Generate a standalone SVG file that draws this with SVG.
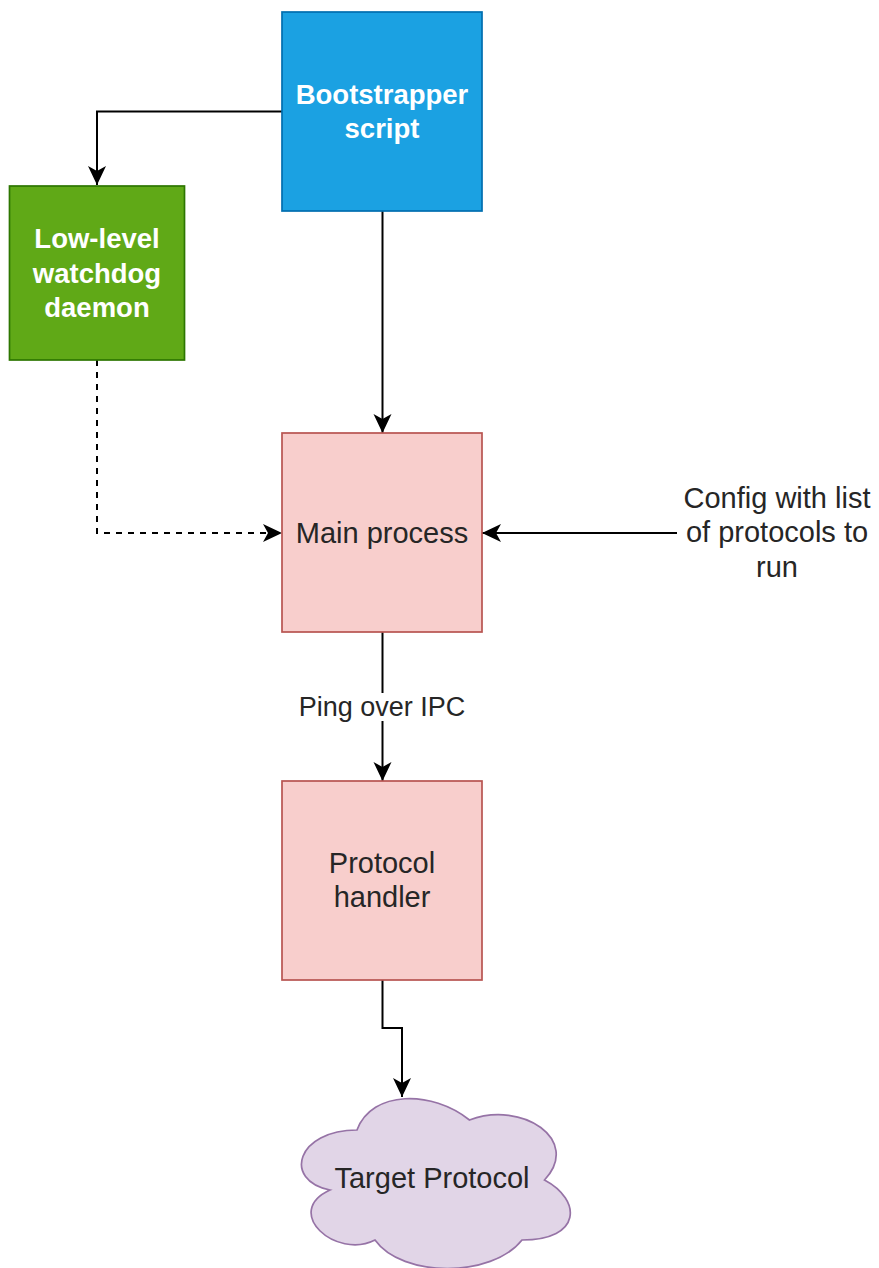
<svg xmlns="http://www.w3.org/2000/svg" width="879" height="1268" viewBox="0 0 879 1268">
  <style>
    .lbl { font-family: "Liberation Sans", Arial, sans-serif; font-size: 29px; fill: #262626; text-anchor: middle; }
    .bold { font-family: "Liberation Sans", Arial, sans-serif; font-size: 27.5px; font-weight: bold; fill: #ffffff; text-anchor: middle; }
    .edge { fill: none; stroke: #000000; stroke-width: 2; }
    .dash { stroke-dasharray: 6 6; }
    .red { fill: #f8cecc; stroke: #b85450; stroke-width: 1.7; }
  </style>
  <defs>
    <marker id="arrow" markerUnits="userSpaceOnUse" viewBox="-20 -10 22 20" refX="0" refY="0" markerWidth="22" markerHeight="20" orient="auto">
      <path d="M0,0 L-19,-9 L-14,0 L-19,9 Z" fill="#000000"/>
    </marker>
  </defs>

  <rect width="879" height="1268" fill="#ffffff"/>

  <!-- connectors -->
  <g id="connectors">
    <path class="edge" d="M282,111.5 H97 V185" marker-end="url(#arrow)"/>
    <path class="edge" d="M382.5,211 V433" marker-end="url(#arrow)"/>
    <path class="edge dash" d="M97,360 V533 H282" marker-end="url(#arrow)"/>
    <path class="edge" d="M677,533 H482" marker-end="url(#arrow)"/>
    <path class="edge" d="M382.5,632 V781" marker-end="url(#arrow)"/>
    <path class="edge" d="M382.5,980 V1028 H402 V1097" marker-end="url(#arrow)"/>
    <!-- edge label -->
    <rect x="296" y="693" width="172" height="28" fill="#ffffff"/>
    <text class="lbl" x="382" y="716" font-size="27" style="font-size:27px">Ping over IPC</text>
  </g>

  <g id="bootstrapper">
    <rect x="282" y="12" width="200" height="199" fill="#1ba1e2" stroke="#006eaf" stroke-width="1.7"/>
    <text class="bold" x="382" y="104">Bootstrapper</text>
    <text class="bold" x="382" y="138">script</text>
  </g>

  <g id="watchdog">
    <rect x="9.5" y="186" width="175" height="174" fill="#60a917" stroke="#2d7600" stroke-width="1.7"/>
    <text class="bold" x="97" y="248">Low-level</text>
    <text class="bold" x="97" y="283">watchdog</text>
    <text class="bold" x="97" y="317">daemon</text>
  </g>

  <g id="main-process">
    <rect class="red" x="282" y="433" width="200" height="199"/>
    <text class="lbl" x="382" y="543">Main process</text>
  </g>

  <g id="config">
    <text class="lbl" x="777" y="508">Config with list</text>
    <text class="lbl" x="777" y="542">of protocols to</text>
    <text class="lbl" x="777" y="577">run</text>
  </g>

  <g id="protocol-handler">
    <rect class="red" x="282" y="781" width="200" height="199"/>
    <text class="lbl" x="382" y="873">Protocol</text>
    <text class="lbl" x="382" y="907">handler</text>
  </g>

  <g id="target-protocol">
    <path d="M357,1130 C297,1130 282,1180 330,1190 C282,1212 336,1260 375,1240 C402,1278 492,1278 522,1240 C582,1240 582,1200 544.5,1180 C582,1140 522,1100 469.5,1120 C432,1090 372,1090 357,1130 Z" fill="#e1d5e7" stroke="#9673a6" stroke-width="1.7"/>
    <text class="lbl" x="432" y="1188">Target Protocol</text>
  </g>
</svg>
